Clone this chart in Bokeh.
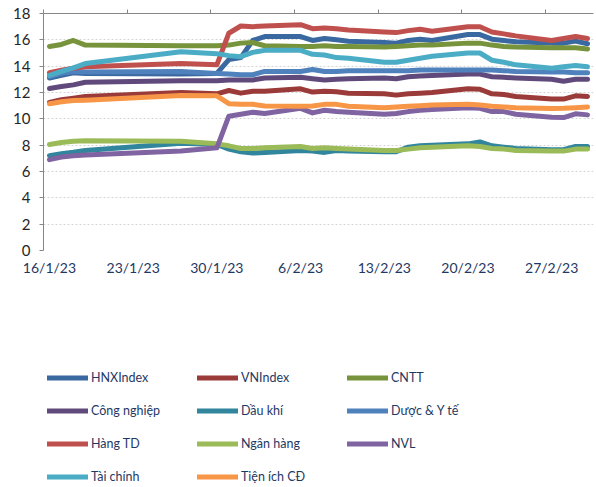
import pandas as pd
from bokeh.plotting import figure
from bokeh.layouts import column
from bokeh.models import Range1d, FixedTicker, DatetimeAxis, Legend, LegendItem
from bokeh.embed import file_html
from bokeh.resources import INLINE

# ---------------- data ----------------
dates = ["2023-01-16", "2023-01-17", "2023-01-18", "2023-01-19", "2023-01-27",
         "2023-01-30", "2023-01-31", "2023-02-01", "2023-02-02", "2023-02-03",
         "2023-02-06", "2023-02-07", "2023-02-08", "2023-02-09", "2023-02-10",
         "2023-02-13", "2023-02-14", "2023-02-15", "2023-02-16", "2023-02-17",
         "2023-02-20", "2023-02-21", "2023-02-22", "2023-02-23", "2023-02-24",
         "2023-02-27", "2023-02-28", "2023-03-01", "2023-03-02"]

x_tick_labels = ["16/1/23", "23/1/23", "30/1/23", "6/2/23", "13/2/23", "20/2/23", "27/2/23"]
y_ticks = [0, 2, 4, 6, 8, 10, 12, 14, 16, 18]
y_grid_ticks = [2, 4, 6, 8, 10, 12, 14, 16]

hnx_index = [13.1, 13.3, 13.5, 13.45, 13.4, 13.45, 14.5, 14.65, 15.95, 16.25,
             16.25, 15.95, 16.1, 16.0, 15.9, 15.8, 15.75, 15.95, 16.05, 15.95,
             16.4, 16.4, 16.05, 15.95, 15.85, 15.75, 15.75, 15.9, 15.7]
vn_index = [11.25, 11.45, 11.57, 11.7, 12.0, 11.9, 12.15, 11.95, 12.1, 12.1,
            12.28, 12.03, 12.1, 12.05, 11.95, 11.9, 11.8, 11.9, 11.95, 12.0,
            12.28, 12.25, 11.9, 11.85, 11.7, 11.5, 11.5, 11.75, 11.7]
cntt = [15.5, 15.65, 15.95, 15.6, 15.55, 15.55, 15.6, 15.75, 15.8, 15.55,
        15.5, 15.5, 15.55, 15.5, 15.5, 15.45, 15.5, 15.55, 15.6, 15.6,
        15.75, 15.75, 15.6, 15.5, 15.45, 15.4, 15.4, 15.4, 15.3]
cong_nghiep = [12.3, 12.45, 12.58, 12.78, 12.9, 12.9, 12.95, 12.95, 12.95, 13.1,
               13.15, 13.05, 12.95, 13.0, 13.05, 13.1, 13.05, 13.2, 13.25, 13.3,
               13.4, 13.4, 13.2, 13.15, 13.1, 13.0, 12.85, 13.0, 13.0]
dau_khi = [7.2, 7.35, 7.46, 7.6, 8.15, 8.05, 7.7, 7.5, 7.4, 7.45,
           7.6, 7.55, 7.45, 7.6, 7.55, 7.5, 7.5, 7.85, 7.95, 8.0,
           8.1, 8.25, 7.95, 7.85, 7.75, 7.65, 7.65, 7.9, 7.9]
duoc_y_te = [13.2, 13.45, 13.6, 13.55, 13.6, 13.45, 13.4, 13.35, 13.35, 13.6,
             13.6, 13.75, 13.6, 13.6, 13.65, 13.65, 13.65, 13.65, 13.7, 13.7,
             13.7, 13.7, 13.7, 13.65, 13.6, 13.55, 13.55, 13.5, 13.5]
hang_td = [13.5, 13.7, 13.85, 13.95, 14.2, 14.1, 16.5, 17.05, 17.0, 17.05,
           17.15, 16.85, 16.9, 16.85, 16.75, 16.6, 16.55, 16.7, 16.8, 16.65,
           17.0, 17.0, 16.6, 16.45, 16.3, 15.95, 16.1, 16.25, 16.1]
ngan_hang = [8.05, 8.2, 8.3, 8.33, 8.3, 8.1, 7.95, 7.75, 7.75, 7.8,
             7.9, 7.75, 7.8, 7.75, 7.7, 7.6, 7.6, 7.7, 7.8, 7.85,
             7.95, 7.9, 7.75, 7.7, 7.6, 7.55, 7.55, 7.7, 7.7]
nvl = [6.9, 7.1, 7.2, 7.25, 7.55, 7.8, 10.2, 10.35, 10.5, 10.4,
       10.8, 10.45, 10.65, 10.55, 10.5, 10.35, 10.4, 10.55, 10.65, 10.7,
       10.85, 10.8, 10.55, 10.55, 10.35, 10.12, 10.1, 10.38, 10.3]
tai_chinh = [13.3, 13.6, 13.87, 14.2, 15.1, 14.95, 14.8, 14.72, 15.05, 15.2,
             15.2, 14.9, 14.85, 14.65, 14.6, 14.3, 14.3, 14.45, 14.6, 14.75,
             15.0, 15.0, 14.45, 14.3, 14.1, 13.85, 13.95, 14.05, 13.95]
tien_ich = [11.14, 11.3, 11.39, 11.42, 11.77, 11.75, 11.15, 11.1, 11.1, 10.98,
            10.95, 10.97, 11.1, 11.1, 10.95, 10.85, 10.9, 10.95, 11.0, 11.05,
            11.1, 11.05, 10.95, 10.9, 10.85, 10.78, 10.8, 10.85, 10.9]

series_names = ["HNXIndex", "VNIndex", "CNTT", "Công nghiệp", "Dầu khí", "Dược & Y tế",
                "Hàng TD", "Ngân hàng", "NVL", "Tài chính", "Tiện ích CĐ"]
series_values = [hnx_index, vn_index, cntt, cong_nghiep, dau_khi, duoc_y_te,
                 hang_td, ngan_hang, nvl, tai_chinh, tien_ich]
series_colors = ["#3A68A0", "#9A3B39", "#77933C", "#604A7B", "#31859C", "#4F81BD",
                 "#C0504D", "#9BBB59", "#8064A2", "#4BACC6", "#F79646"]

# ---------------- main chart ----------------
x = pd.to_datetime(dates)
epoch = pd.Timestamp("1970-01-01")
day_ms = 86400000
label_ms = [int((pd.to_datetime(t, format="%d/%m/%y") - epoch) // pd.Timedelta(milliseconds=1))
            for t in x_tick_labels]
boundary_ms = [m - day_ms // 2 for m in label_ms]

x_start = x[0] - pd.Timedelta(hours=12)
x_end = x[-1] + pd.Timedelta(hours=12)

p = figure(width=596, height=290, x_axis_type="datetime",
           x_range=Range1d(x_start, x_end), y_range=Range1d(0, 18),
           output_backend="svg", toolbar_location=None,
           min_border_left=43, min_border_right=3, min_border_top=13,
           min_border_bottom=40)
p.outline_line_color = None
p.background_fill_color = "white"

axis_grey = "#868686"
font = "Lato"
line_w = 5

# bottom axis: labels only
bx = p.xaxis[0]
bx.ticker = FixedTicker(ticks=label_ms)
bx.major_label_overrides = {m: t for m, t in zip(label_ms, x_tick_labels)}
bx.axis_line_color = None
bx.major_tick_line_color = None
bx.major_tick_out = 0
bx.major_tick_in = 0
bx.minor_tick_line_color = None
bx.minor_tick_out = 0
bx.major_label_standoff = 8
bx.major_label_text_font = font
bx.major_label_text_font_size = "14px"
bx.major_label_text_color = "#1F3864"

# top axis: line + ticks only
tx = DatetimeAxis(ticker=FixedTicker(ticks=boundary_ms),
                  axis_line_color=axis_grey, major_tick_line_color=axis_grey,
                  minor_tick_line_color=None, major_tick_out=4, major_tick_in=0,
                  major_label_overrides={m: "" for m in boundary_ms},
                  major_label_standoff=0)
p.add_layout(tx, "above")

# y axis
ya = p.yaxis[0]
ya.ticker = FixedTicker(ticks=y_ticks)
ya.axis_line_color = axis_grey
ya.major_tick_line_color = axis_grey
ya.minor_tick_line_color = None
ya.major_tick_out = 4
ya.major_tick_in = 0
ya.major_label_standoff = 9
ya.major_label_text_font = font
ya.major_label_text_font_size = "15px"
ya.major_label_text_color = "#262626"

p.xgrid.visible = False
p.ygrid.ticker = FixedTicker(ticks=y_grid_ticks)
p.ygrid.grid_line_color = "#D4D4D4"
p.ygrid.grid_line_dash = "2 2"
p.ygrid.grid_line_width = 1

for name, vals, col in zip(series_names, series_values, series_colors):
    p.line(x, vals, line_color=col, line_width=line_w,
           line_cap="round", line_join="round")

# ---------------- legend panel ----------------
lg = figure(width=596, height=197, output_backend="svg", toolbar_location=None,
            x_axis_location=None, y_axis_location=None,
            min_border=0, min_border_left=0, min_border_right=0,
            min_border_top=0, min_border_bottom=0)
lg.outline_line_color = None
lg.xgrid.visible = False
lg.ygrid.visible = False

nan = float("nan")
items = []
for name, col in zip(series_names, series_colors):
    # legend key only (a single empty/NaN point, nothing is drawn in the panel)
    key = lg.line(x=[nan], y=[nan], line_color=col, line_width=line_w,
                  line_cap="round", line_join="round")
    items.append(LegendItem(label=name, renderers=[key]))

legend = Legend(items=items, location=(4, 0), orientation="horizontal", ncols=3,
                spacing=12, label_standoff=3, glyph_width=41, glyph_height=21,
                label_height=21, label_width=94, padding=0, margin=0,
                background_fill_alpha=0, border_line_color=None,
                label_text_font=font, label_text_font_size="12.5px",
                label_text_color="#1F3864")
lg.add_layout(legend)

layout = column(p, lg, spacing=0)
open("out.html", "w").write(file_html(layout, INLINE))
